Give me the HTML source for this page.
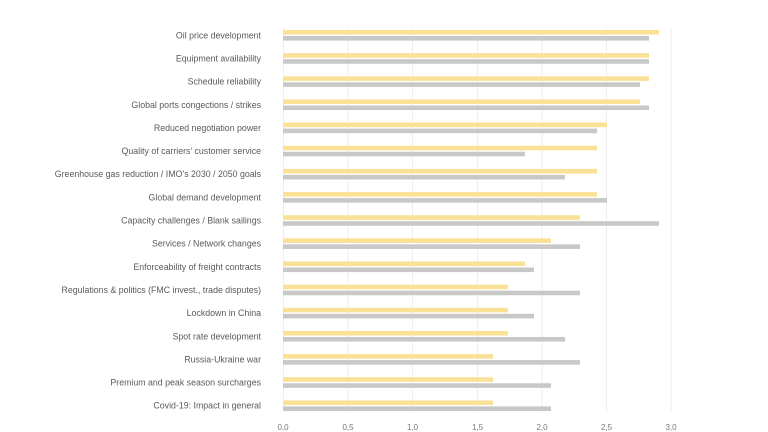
<!DOCTYPE html>
<html><head><meta charset="utf-8"><style>
body{margin:0;background:#fff;}
svg{display:block;font-family:"Liberation Sans",sans-serif;}
</style></head><body>
<svg width="768" height="432" viewBox="0 0 768 432">
<g stroke="#eeeeee" stroke-width="1">
<line x1="283.5" y1="28" x2="283.5" y2="412"/>
<line x1="348" y1="28" x2="348" y2="412"/>
<line x1="412.5" y1="28" x2="412.5" y2="412"/>
<line x1="477.5" y1="28" x2="477.5" y2="412"/>
<line x1="542" y1="28" x2="542" y2="412"/>
<line x1="606.5" y1="28" x2="606.5" y2="412"/>
<line x1="671" y1="28" x2="671" y2="412"/>
</g>
<g fill="#fae196">
<rect x="283" y="30" width="376" height="4.6"/>
<rect x="283" y="53.15" width="366" height="4.6"/>
<rect x="283" y="76.3" width="366" height="4.6"/>
<rect x="283" y="99.45" width="357" height="4.6"/>
<rect x="283" y="122.6" width="324" height="4.6"/>
<rect x="283" y="145.75" width="314" height="4.6"/>
<rect x="283" y="168.9" width="314" height="4.6"/>
<rect x="283" y="192.05" width="314" height="4.6"/>
<rect x="283" y="215.2" width="297" height="4.6"/>
<rect x="283" y="238.35" width="268" height="4.6"/>
<rect x="283" y="261.5" width="242" height="4.6"/>
<rect x="283" y="284.65" width="225" height="4.6"/>
<rect x="283" y="307.8" width="225" height="4.6"/>
<rect x="283" y="330.95" width="225" height="4.6"/>
<rect x="283" y="354.1" width="210" height="4.6"/>
<rect x="283" y="377.25" width="210" height="4.6"/>
<rect x="283" y="400.4" width="210" height="4.6"/>
</g>
<g fill="#c8c8c8">
<rect x="283" y="36" width="366" height="4.6"/>
<rect x="283" y="59.15" width="366" height="4.6"/>
<rect x="283" y="82.3" width="357" height="4.6"/>
<rect x="283" y="105.45" width="366" height="4.6"/>
<rect x="283" y="128.6" width="314" height="4.6"/>
<rect x="283" y="151.75" width="242" height="4.6"/>
<rect x="283" y="174.9" width="282" height="4.6"/>
<rect x="283" y="198.05" width="324" height="4.6"/>
<rect x="283" y="221.2" width="376" height="4.6"/>
<rect x="283" y="244.35" width="297" height="4.6"/>
<rect x="283" y="267.5" width="251" height="4.6"/>
<rect x="283" y="290.65" width="297" height="4.6"/>
<rect x="283" y="313.8" width="251" height="4.6"/>
<rect x="283" y="336.95" width="282" height="4.6"/>
<rect x="283" y="360.1" width="297" height="4.6"/>
<rect x="283" y="383.25" width="268" height="4.6"/>
<rect x="283" y="406.4" width="268" height="4.6"/>
</g>
<g font-size="8" fill="#777" text-anchor="middle">
<text x="283" y="430">0,0</text><text x="348" y="430">0,5</text><text x="412.5" y="430">1,0</text><text x="477.5" y="430">1,5</text><text x="542" y="430">2,0</text><text x="606.5" y="430">2,5</text><text x="671" y="430">3,0</text>
</g>
<g font-size="8.8" fill="#5a5a5a" text-anchor="end">
<text x="261" y="38.3">Oil price development</text>
<text x="261" y="61.45">Equipment availability</text>
<text x="261" y="84.6">Schedule reliability</text>
<text x="261" y="107.75">Global ports congections / strikes</text>
<text x="261" y="130.9">Reduced negotiation power</text>
<text x="261" y="154.05">Quality of carriers’ customer service</text>
<text x="261" y="177.2">Greenhouse gas reduction / IMO’s 2030 / 2050 goals</text>
<text x="261" y="200.35">Global demand development</text>
<text x="261" y="223.5">Capacity challenges / Blank sailings</text>
<text x="261" y="246.65">Services / Network changes</text>
<text x="261" y="269.8">Enforceability of freight contracts</text>
<text x="261" y="292.95">Regulations &amp; politics (FMC invest., trade disputes)</text>
<text x="261" y="316.1">Lockdown in China</text>
<text x="261" y="339.25">Spot rate development</text>
<text x="261" y="362.4">Russia-Ukraine war</text>
<text x="261" y="385.55">Premium and peak season surcharges</text>
<text x="261" y="408.7">Covid-19: Impact in general</text>
</g>
</svg>
</body></html>
